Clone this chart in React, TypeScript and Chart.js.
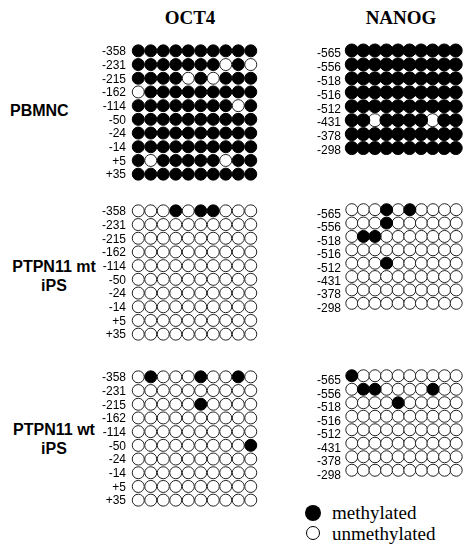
import React, { useEffect, useRef } from "react";
import { Chart, registerables } from "chart.js";

Chart.register(...registerables);

// ---- data ----
const genes = ["OCT4", "NANOG"];
const groups = [["PBMNC"], ["PTPN11 mt", "iPS"], ["PTPN11 wt", "iPS"]];
const clones = [0, 1, 2, 3, 4, 5, 6, 7, 8, 9];
const oct4Sites = ["-358", "-231", "-215", "-162", "-114", "-50", "-24", "-14", "+5", "+35"];
const nanogSites = ["-565", "-556", "-518", "-516", "-512", "-431", "-378", "-298"];

// 1 = methylated, 0 = unmethylated; one string per CpG site, one digit per clone
const oct4Pbmnc = [
  "1111111111", "1111111010", "1111010111", "0111111111", "1111111101",
  "1111111111", "1111111111", "1111111111", "1011111011", "1111111111",
];
const oct4MtIps = [
  "0001011000", "0000000000", "0000000000", "0000000000", "0000000000",
  "0000000000", "0000000000", "0000000000", "0000000000", "0000000000",
];
const oct4WtIps = [
  "0100010010", "0000000000", "0000010000", "0000000000", "0000000000",
  "0000000001", "0000000000", "0000000000", "0000000000", "0000000000",
];
const nanogPbmnc = [
  "1111111111", "1111111111", "1111111111", "1111111111",
  "1111111111", "1101111011", "1111111111", "1111111111",
];
const nanogMtIps = [
  "0001010000", "0001000000", "0110000000", "0000000000",
  "0001000000", "0000000000", "0000000000", "0000000000",
];
const nanogWtIps = [
  "1000000000", "0110000100", "0000100000", "0000000000",
  "0000000000", "0000000000", "0000000000", "0000000000",
];
const legendLabels = ["methylated", "unmethylated"];

// ---- layout ----
const AXIS_W = 40;
type Panel = {
  sites: string[]; rows: string[];
  left: number; top: number; width: number; height: number;
  radius: number; labelOffset: number; tickPad: number;
};
const PAD_B = 10;
const panels: Panel[] = [
  { sites: oct4Sites, rows: oct4Pbmnc, left: 92, top: 37, width: 172, height: 144, radius: 6, labelOffset: 1, tickPad: 6 },
  { sites: oct4Sites, rows: oct4MtIps, left: 92, top: 197, width: 172, height: 144, radius: 6, labelOffset: 1, tickPad: 6 },
  { sites: oct4Sites, rows: oct4WtIps, left: 92, top: 363, width: 172, height: 144, radius: 6, labelOffset: 1, tickPad: 6 },
  { sites: nanogSites, rows: nanogPbmnc, left: 306, top: 36, width: 163, height: 119, radius: 6.5, labelOffset: 3, tickPad: 5 },
  { sites: nanogSites, rows: nanogMtIps, left: 306, top: 196, width: 163, height: 114, radius: 6, labelOffset: 5, tickPad: 5 },
  { sites: nanogSites, rows: nanogWtIps, left: 306, top: 362, width: 163, height: 115, radius: 6, labelOffset: 5, tickPad: 5 },
];

const points = (sites: string[], rows: string[], v: string) =>
  rows.flatMap((r, j) => clones.filter((i) => r[i] === v).map((i) => ({ x: i, y: sites[j] })));

function MethPanel({ p }: { p: Panel }) {
  const ref = useRef<HTMLCanvasElement>(null);
  useEffect(() => {
    const chart = new Chart(ref.current!, {
      type: "scatter",
      data: {
        datasets: [
          {
            label: legendLabels[0],
            data: points(p.sites, p.rows, "1") as any,
            backgroundColor: "#000",
            borderColor: "#000",
            borderWidth: 1,
            pointRadius: p.radius,
            pointHoverRadius: p.radius,
            clip: false as any,
          },
          {
            label: legendLabels[1],
            data: points(p.sites, p.rows, "0") as any,
            backgroundColor: "#fff",
            borderColor: "#222",
            borderWidth: 1,
            pointRadius: p.radius,
            pointHoverRadius: p.radius,
            clip: false as any,
          },
        ],
      },
      options: {
        animation: false,
        responsive: false,
        events: [],
        layout: { padding: { top: 0, left: 0, right: 0, bottom: PAD_B } },
        plugins: { legend: { display: false }, tooltip: { enabled: false } },
        scales: {
          x: { type: "linear", display: false, min: -0.5, max: 9.5 },
          y: {
            type: "category",
            labels: p.sites,
            offset: true,
            grid: { display: false, drawTicks: false },
            border: { display: false },
            ticks: {
              color: "#000",
              autoSkip: false,
              padding: p.tickPad,
              labelOffset: p.labelOffset,
              font: { family: "'Liberation Sans', Arial, sans-serif", size: 12 },
            },
            afterFit: (s: any) => {
              s.width = AXIS_W;
              s.paddingTop = 0;
              s.paddingBottom = 0;
            },
          } as any,
        },
      },
    });
    return () => chart.destroy();
  }, [p]);
  return (
    <canvas
      ref={ref}
      width={p.width}
      height={p.height + PAD_B}
      style={{ position: "absolute", left: p.left, top: p.top, display: "block" }}
    />
  );
}

const titleStyle: React.CSSProperties = {
  position: "absolute",
  top: 7,
  width: 120,
  textAlign: "center",
  fontFamily: "'Liberation Serif', 'Times New Roman', serif",
  fontWeight: "bold",
  fontSize: 19,
  lineHeight: "21px",
  color: "#000",
};
const groupStyle: React.CSSProperties = {
  position: "absolute",
  fontFamily: "'Liberation Sans', Arial, sans-serif",
  fontWeight: "bold",
  fontSize: 16,
  lineHeight: "19px",
  color: "#000",
  whiteSpace: "nowrap",
};
const legendText: React.CSSProperties = {
  position: "absolute",
  left: 332,
  fontFamily: "'Liberation Serif', 'Times New Roman', serif",
  fontSize: 19,
  lineHeight: "21px",
  color: "#000",
};

export default function App() {
  return (
    <div style={{ position: "absolute", left: 0, top: 0, width: 470, height: 546, background: "#fff", overflow: "hidden" }}>
      <div style={{ ...titleStyle, left: 130 }}>{genes[0]}</div>
      <div style={{ ...titleStyle, left: 341 }}>{genes[1]}</div>

      <div style={{ ...groupStyle, left: 10, top: 101 }}>{groups[0][0]}</div>
      <div style={{ ...groupStyle, left: 8, top: 257, width: 92, textAlign: "center" }}>
        {groups[1][0]}<br />{groups[1][1]}
      </div>
      <div style={{ ...groupStyle, left: 8, top: 420, width: 92, textAlign: "center" }}>
        {groups[2][0]}<br />{groups[2][1]}
      </div>

      {panels.map((p, k) => (
        <MethPanel key={k} p={p} />
      ))}

      <div style={{ position: "absolute", left: 305, top: 505, width: 16, height: 16, borderRadius: "50%", background: "#000" }} />
      <div style={{ position: "absolute", left: 306, top: 526, width: 12, height: 12, borderRadius: "50%", background: "#fff", border: "1.5px solid #000" }} />
      <div style={{ ...legendText, top: 502 }}>{legendLabels[0]}</div>
      <div style={{ ...legendText, top: 523 }}>{legendLabels[1]}</div>
    </div>
  );
}
